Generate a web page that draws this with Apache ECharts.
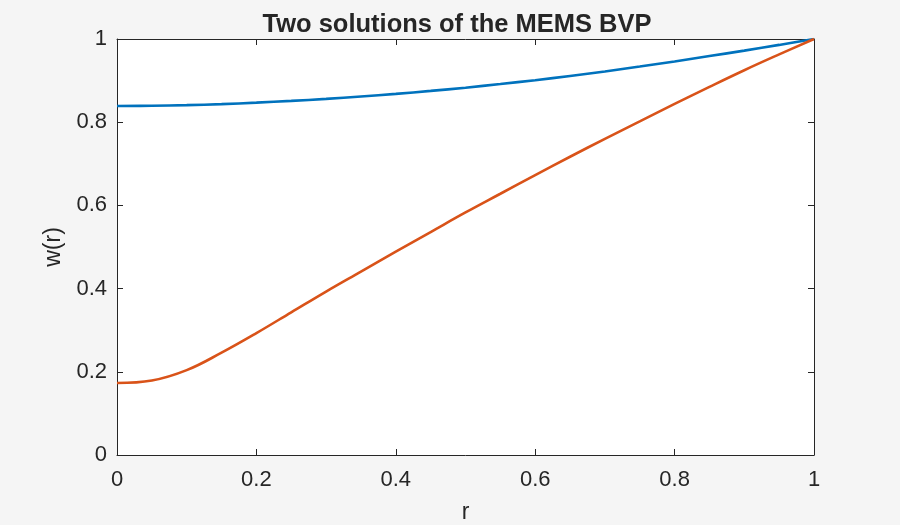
<!DOCTYPE html>
<html>
<head>
<meta charset="utf-8">
<script src="https://cdn.jsdelivr.net/npm/echarts@6/dist/echarts.min.js"></script>
<style>
html,body{margin:0;padding:0;background:#f5f5f5;}
#c{width:900px;height:525px;}
</style>
</head>
<body>
<div id="c"></div>
<script>
const rValues = [0, 0.05, 0.1, 0.15, 0.2, 0.25, 0.3, 0.35, 0.4, 0.45, 0.5, 0.55, 0.6, 0.65, 0.7, 0.75, 0.8, 0.85, 0.9, 0.95, 1.0];
const upperSolution = [0.839, 0.8395, 0.841, 0.8435, 0.847, 0.8512, 0.856, 0.8617, 0.868, 0.8752, 0.883, 0.8917, 0.901, 0.9112, 0.922, 0.9337, 0.946, 0.959, 0.972, 0.9858, 1.0];
const lowerSolution = [0.173, 0.179, 0.204, 0.246, 0.293, 0.343, 0.393, 0.441, 0.489, 0.536, 0.583, 0.628, 0.673, 0.717, 0.760, 0.802, 0.844, 0.885, 0.925, 0.963, 1.0];
const titleText = 'Two solutions of the MEMS BVP';
const xName = 'r';
const yName = 'w(r)';

const chart = echarts.init(document.getElementById('c'), null, {renderer: 'canvas'});
const font = 'Helvetica, Arial, "Liberation Sans", sans-serif';
const axisColor = '#262626';
const fmt = v => (v === 0 || v === 1) ? String(v) : v.toFixed(1);

const baseAxis = {
  type: 'value', min: 0, max: 1, interval: 0.2,
  axisLine: {show: true, onZero: false, lineStyle: {color: axisColor, width: 1}},
  axisTick: {show: true, inside: true, length: 6, lineStyle: {color: axisColor}},
  splitLine: {show: false}
};

chart.setOption({
  backgroundColor: '#f5f5f5',
  animation: false,
  title: {
    text: titleText, left: 452, top: 7, textAlign: 'center',
    textStyle: {fontFamily: font, fontWeight: 'bold', fontSize: 25.5, color: '#262626'}
  },
  grid: {left: 117, right: 86, top: 39, bottom: 70, show: true, backgroundColor: '#ffffff', borderWidth: 0,
         containLabel: false, outerBoundsMode: 'none'},
  xAxis: [
    Object.assign({}, baseAxis, {
      position: 'bottom', name: xName, nameLocation: 'middle', nameGap: 46,
      nameTextStyle: {fontFamily: font, fontSize: 23, color: axisColor},
      axisLabel: {fontFamily: font, fontSize: 22, color: axisColor, margin: 14, formatter: fmt}
    }),
    Object.assign({}, baseAxis, {position: 'top', axisLabel: {show: false}})
  ],
  yAxis: [
    Object.assign({}, baseAxis, {
      position: 'left', name: yName, nameLocation: 'middle', nameGap: 51,
      nameTextStyle: {fontFamily: font, fontSize: 23, color: axisColor},
      axisLabel: {fontFamily: font, fontSize: 22, color: axisColor, margin: 10, formatter: fmt}
    }),
    Object.assign({}, baseAxis, {position: 'right', axisLabel: {show: false}})
  ],
  series: [
    {
      type: 'line', data: rValues.map((r, i) => [r, upperSolution[i]]),
      smooth: 0.4, showSymbol: false, xAxisIndex: 0, yAxisIndex: 0,
      lineStyle: {color: '#0072BD', width: 2.6}
    },
    {
      type: 'line', data: rValues.map((r, i) => [r, lowerSolution[i]]),
      smooth: 0.4, showSymbol: false, xAxisIndex: 0, yAxisIndex: 0,
      lineStyle: {color: '#D95319', width: 2.6}
    }
  ]
});
</script>
</body>
</html>
